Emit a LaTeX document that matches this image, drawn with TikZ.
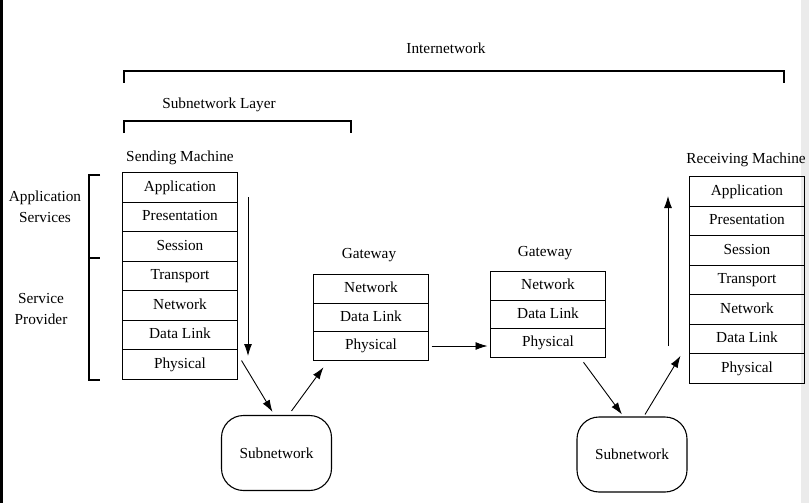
\documentclass[tikz,border=0pt]{standalone}
\usepackage{fontspec}
\setmainfont{Liberation Serif}
\usetikzlibrary{arrows.meta,positioning}

\begin{document}
\begin{tikzpicture}[x=1pt, y=-1pt,
    every node/.style={font=\fontsize{15.3}{21}\selectfont},
    layer/.style={draw, line width=1.1pt, minimum width=115pt, minimum height=29.5pt,
                  text height=10pt, text depth=3pt, inner sep=0pt, outer sep=0pt},
    gate/.style={layer, minimum height=28.5pt},
    subnet/.style={draw, line width=1.1pt, rounded corners=22pt,
                   minimum width=110pt, minimum height=75pt},
    flow/.style={line width=0.9pt, -{Latex[length=12pt,width=8pt]}},
    bracket/.style={line width=1.1pt}]
    \useasboundingbox (0,0) rectangle (809,503);
    % screen edges
    \fill[black] (0,0) rectangle (3,503);
    \fill[black!8] (801,0) rectangle (809,503);

    % brackets on top
    \node (inet) at (446,48) {Internetwork};
    \draw[bracket] (124,83) -- (124,71) -- (784,71) -- (784,83);
    \node (snlayer) at (219,105) {Subnetwork Layer};
    \draw[bracket] (124,133) -- (124,121) -- (351,121) -- (351,133);

    % sending machine
    \node (send) at (180,158) {Sending Machine};
    \node[layer] (s1) at (180,187.5) {Application};
    \node[layer, below=0pt of s1] (s2) {Presentation};
    \node[layer, below=0pt of s2] (s3) {Session};
    \node[layer, below=0pt of s3] (s4) {Transport};
    \node[layer, below=0pt of s4] (s5) {Network};
    \node[layer, below=0pt of s5] (s6) {Data Link};
    \node[layer, below=0pt of s6] (s7) {Physical};

    % left bracket
    \draw[bracket] (100,175) -- (89,175) -- (89,380) -- (100,380);
    \draw[bracket] (89,258) -- (100,258);
    \node[align=center] (appserv) at (45,207) {Application\\Services};
    \node[align=center] (servprov) at (41,309) {Service\\Provider};

    % gateways
    \node (gwa) at (369,255) {Gateway};
    \node[gate] (g1) at (371,289) {Network};
    \node[gate, below=0pt of g1] (g2) {Data Link};
    \node[gate, below=0pt of g2] (g3) {Physical};
    \node (gwb) at (545,253) {Gateway};
    \node[gate] (h1) at (548,286) {Network};
    \node[gate, below=0pt of h1] (h2) {Data Link};
    \node[gate, below=0pt of h2] (h3) {Physical};

    % receiving machine
    \node (recv) at (746,160) {Receiving Machine};
    \node[layer] (r1) at (747,191.5) {Application};
    \node[layer, below=0pt of r1] (r2) {Presentation};
    \node[layer, below=0pt of r2] (r3) {Session};
    \node[layer, below=0pt of r3] (r4) {Transport};
    \node[layer, below=0pt of r4] (r5) {Network};
    \node[layer, below=0pt of r5] (r6) {Data Link};
    \node[layer, below=0pt of r6] (r7) {Physical};

    % subnetworks
    \node[subnet] (sub1) at (276.5,453) {Subnetwork};
    \node[subnet] (sub2) at (632,454.5) {Subnetwork};

    % data flow
    \coordinate (downA) at (248,197);
    \coordinate (downB) at (248,356);
    \draw[flow] (downA) -- (downB);
    \draw[flow] ([xshift=4pt,yshift=4pt]s7.east) -- ([xshift=-4pt,yshift=3pt]sub1.north);
    \draw[flow] ([xshift=15pt,yshift=4pt]sub1.north) -- ([xshift=10pt,yshift=-7pt]g3.south west);
    \draw[flow, shorten <=3pt, shorten >=3pt] (g3.east) -- (g3.east -| h3.west);
    \draw[flow] ([xshift=-22pt,yshift=-5pt]h3.south east) -- ([xshift=-10pt,yshift=2pt]sub2.north);
    \draw[flow] ([xshift=13pt,yshift=2pt]sub2.north) -- ([xshift=-9pt,yshift=-2pt]r7.north west);
    \coordinate (upA) at (668,346);
    \coordinate (upB) at (668,196);
    \draw[flow] (upA) -- (upB);
\end{tikzpicture}
\end{document}
